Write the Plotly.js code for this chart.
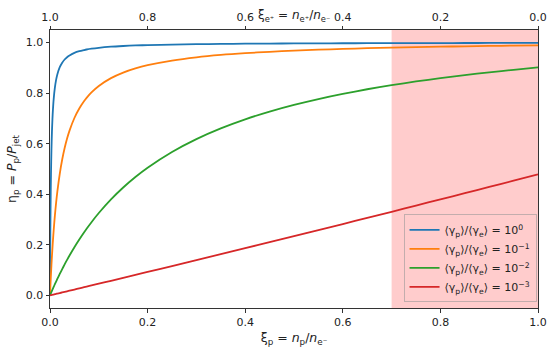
<!DOCTYPE html>
<html>
<head>
<meta charset="utf-8">
<script src="https://cdn.plot.ly/plotly-3.0.1.min.js"></script>
<style>html,body{margin:0;padding:0;background:#fff;}#chart{width:550px;height:354px;}</style>
</head>
<body>
<div id="chart"></div>
<script>
const xiP = [0, 0.0005, 0.001, 0.0015, 0.002, 0.003, 0.004, 0.005, 0.006, 0.0075, 0.01, 0.0125, 0.015, 0.02, 0.025, 0.03, 0.035, 0.04, 0.05, 0.06, 0.07, 0.075, 0.085, 0.1, 0.125, 0.15, 0.175, 0.2, 0.25, 0.3, 0.35, 0.4, 0.45, 0.5, 0.55, 0.6, 0.65, 0.7, 0.75, 0.8, 0.85, 0.9, 0.95, 1.0];
const eta1e0 = [0, 0.1867, 0.3147, 0.4079, 0.4789, 0.5797, 0.6478, 0.6970, 0.7342, 0.7756, 0.8218, 0.8524, 0.8740, 0.9027, 0.9208, 0.9332, 0.9424, 0.9493, 0.9592, 0.9660, 0.9708, 0.9728, 0.9760, 0.9797, 0.9839, 0.9867, 0.9888, 0.9903, 0.9924, 0.9939, 0.9949, 0.9957, 0.9963, 0.9967, 0.9971, 0.9975, 0.9977, 0.9980, 0.9982, 0.9984, 0.9985, 0.9987, 0.9988, 0.9989];
const eta1em1 = [0, 0.0224, 0.0439, 0.0645, 0.0842, 0.1212, 0.1554, 0.1870, 0.2164, 0.2568, 0.3157, 0.3660, 0.4096, 0.4811, 0.5375, 0.5830, 0.6205, 0.6520, 0.7018, 0.7395, 0.7690, 0.7815, 0.8029, 0.8285, 0.8596, 0.8816, 0.8980, 0.9107, 0.9291, 0.9419, 0.9512, 0.9582, 0.9638, 0.9684, 0.9721, 0.9752, 0.9779, 0.9802, 0.9822, 0.9839, 0.9855, 0.9869, 0.9881, 0.9892];
const eta1em2 = [0, 0.0023, 0.0046, 0.0068, 0.0091, 0.0136, 0.0181, 0.0225, 0.0269, 0.0334, 0.0441, 0.0546, 0.0649, 0.0849, 0.1041, 0.1227, 0.1405, 0.1578, 0.1905, 0.2211, 0.2498, 0.2634, 0.2895, 0.3258, 0.3797, 0.4267, 0.4682, 0.5050, 0.5674, 0.6183, 0.6607, 0.6965, 0.7272, 0.7537, 0.7769, 0.7973, 0.8155, 0.8317, 0.8463, 0.8596, 0.8716, 0.8825, 0.8925, 0.9018];
const eta1em3 = [0, 0.0002, 0.0005, 0.0007, 0.0009, 0.0014, 0.0018, 0.0023, 0.0028, 0.0034, 0.0046, 0.0057, 0.0069, 0.0092, 0.0115, 0.0138, 0.0161, 0.0184, 0.0230, 0.0276, 0.0322, 0.0345, 0.0392, 0.0461, 0.0577, 0.0693, 0.0809, 0.0926, 0.1159, 0.1394, 0.1630, 0.1867, 0.2104, 0.2343, 0.2583, 0.2823, 0.3065, 0.3308, 0.3552, 0.3797, 0.4042, 0.4289, 0.4537, 0.4786];
const seriesNames = ["⟨γ<sub>p</sub>⟩/⟨γ<sub>e</sub>⟩ = 10<sup>0</sup>", "⟨γ<sub>p</sub>⟩/⟨γ<sub>e</sub>⟩ = 10<sup>−1</sup>", "⟨γ<sub>p</sub>⟩/⟨γ<sub>e</sub>⟩ = 10<sup>−2</sup>", "⟨γ<sub>p</sub>⟩/⟨γ<sub>e</sub>⟩ = 10<sup>−3</sup>"];
const colors = ["#1f77b4", "#ff7f0e", "#2ca02c", "#d62728"];
const tickVals = [0, 0.2, 0.4, 0.6, 0.8, 1.0];
const bottomTickText = ["0.0", "0.2", "0.4", "0.6", "0.8", "1.0"];
const topTickText = ["1.0", "0.8", "0.6", "0.4", "0.2", "0.0"];
const yTickVals = [0, 0.2, 0.4, 0.6, 0.8, 1.0];
const shadedRange = [0.7, 1.0];

const ys = [eta1e0, eta1em1, eta1em2, eta1em3];
const traces = ys.map((y, i) => ({
  x: xiP, y: y, type: "scatter", mode: "lines", name: seriesNames[i],
  line: {color: colors[i], width: 1.8, shape: "spline", smoothing: 0.8}
}));
traces.push({x: [0, 1], y: [null, null], xaxis: "x2", yaxis: "y", showlegend: false, hoverinfo: "skip", mode: "lines"});

const font = {family: "DejaVu Sans, sans-serif", size: 11, color: "#222"};
const layout = {
  width: 550, height: 354,
  margin: {l: 50, r: 12, t: 30, b: 46},
  paper_bgcolor: "#fff", plot_bgcolor: "rgba(0,0,0,0)",
  font: font,
  showlegend: true,
  legend: {x: 0.997, xanchor: "right", y: 0.02, yanchor: "bottom",
           bgcolor: "rgba(255,255,255,0)", bordercolor: "rgba(170,160,160,0.7)", borderwidth: 1,
           font: {family: "DejaVu Sans, sans-serif", size: 11, color: "#222"}, tracegroupgap: 0},
  xaxis: {range: [0, 1], tickvals: tickVals, ticktext: bottomTickText, ticks: "outside", ticklen: 3.5, tickwidth: 1,
          tickcolor: "#333", showline: true, linecolor: "#333", linewidth: 1, mirror: true,
          showgrid: false, zeroline: false,
          title: {text: "ξ<sub>p</sub> = <i>n</i><sub>p</sub>/<i>n</i><sub>e⁻</sub>", font: {size: 12.5}, standoff: 5}},
  xaxis2: {range: [0, 1], overlaying: "x", side: "top", anchor: "y", tickvals: tickVals, ticktext: topTickText,
           ticks: "outside", ticklen: 3.5, tickwidth: 1, tickcolor: "#333", showgrid: false, zeroline: false, showline: false},
  yaxis: {range: [-0.05, 1.05], tickvals: yTickVals, tickformat: ".1f", ticks: "outside", ticklen: 3.5, tickwidth: 1,
          tickcolor: "#333", showline: true, linecolor: "#333", linewidth: 1, mirror: true,
          showgrid: false, zeroline: false,
          title: {text: "η<sub>p</sub> = <i>P</i><sub>p</sub>/<i>P</i><sub>jet</sub>", font: {size: 12.5}, standoff: 6}},
  shapes: [{type: "rect", xref: "x", yref: "paper", x0: shadedRange[0], x1: shadedRange[1], y0: 0, y1: 1,
            fillcolor: "rgba(255,0,0,0.2)", line: {width: 0}, layer: "below"}],
  annotations: [{xref: "paper", yref: "paper", x: 0.5, y: 1.052, yanchor: "middle", showarrow: false,
                 text: "ξ<sub>e⁺</sub> = <i>n</i><sub>e⁺</sub>/<i>n</i><sub>e⁻</sub>", font: {size: 12, color: "#222"}}]
};
Plotly.newPlot("chart", traces, layout, {displayModeBar: false, staticPlot: true});
</script>
</body>
</html>
